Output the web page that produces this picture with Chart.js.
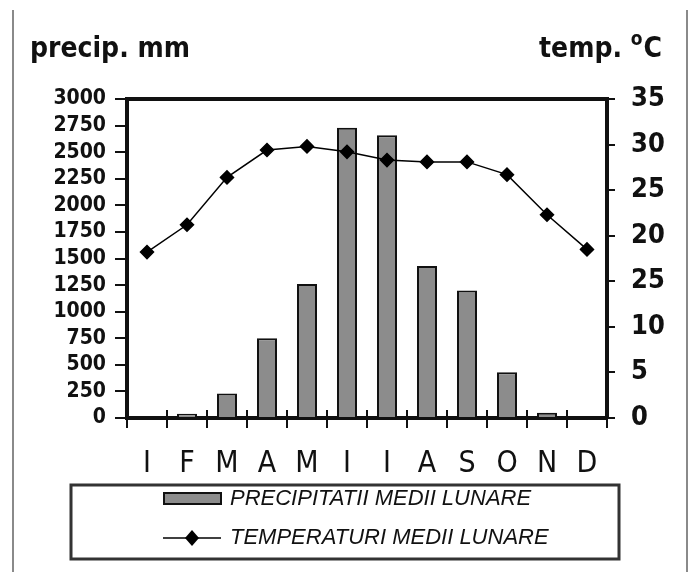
<!DOCTYPE html>
<html>
<head>
<meta charset="utf-8">
<script src="https://cdn.jsdelivr.net/npm/chart.js@4/dist/chart.umd.min.js"></script>
<style>
  html, body { margin: 0; padding: 0; background: #fff; }
  #wrap { position: relative; width: 691px; height: 572px; }
  #c { position: absolute; left: 0; top: 0; }
  .frame { position: absolute; top: 10px; bottom: 0; width: 2px; background: #8a8a8a; }
</style>
</head>
<body>
<div id="wrap">
  <canvas id="c" width="691" height="572"></canvas>
  <div class="frame" style="left:12px"></div>
  <div class="frame" style="left:686px"></div>
</div>
<script>
// ---- data ----
const months = ['I', 'F', 'M', 'A', 'M', 'I', 'I', 'A', 'S', 'O', 'N', 'D'];
const precipitation = [0, 40, 230, 750, 1260, 2730, 2660, 1430, 1200, 430, 50, 0];
const temperature = [18.2, 21.2, 26.4, 29.4, 29.8, 29.2, 28.3, 28.1, 28.1, 26.7, 22.3, 18.5];
const precipTickLabels = ['0', '250', '500', '750', '1000', '1250', '1500', '1750', '2000', '2250', '2500', '2750', '3000'];
const tempTickLabels = ['0', '5', '10', '25', '20', '25', '30', '35'];
const precipLabel = 'PRECIPITATII MEDII LUNARE';
const tempLabel = 'TEMPERATURI MEDII LUNARE';
const leftTitle = 'precip. mm';
const rightTitle = ['temp. ', 'o', 'C'];

const NARROW = "'Liberation Sans Narrow', 'Arial Narrow', 'DejaVu Sans Condensed', sans-serif";
const BAR_FILL = '#8c8c8c';
const INK = '#111';

const decorPlugin = {
  id: 'decor',
  afterDatasetsDraw(chart) {
    const { ctx, chartArea: a, scales } = chart;
    ctx.save();
    ctx.strokeStyle = INK;
    ctx.lineWidth = 4;
    ctx.beginPath();
    ctx.moveTo(a.left - 2, a.top);
    ctx.lineTo(a.right + 2, a.top);
    ctx.stroke();
    const n = scales.x.ticks.length;
    const w = (a.right - a.left) / n;
    ctx.lineWidth = 2;
    ctx.beginPath();
    for (let i = 1; i < n; i++) {
      const px = Math.round(a.left + i * w);
      ctx.moveTo(px, a.bottom);
      ctx.lineTo(px, a.bottom - 8);
    }
    ctx.stroke();
    ctx.restore();
  },
  afterDraw(chart) {
    const { ctx } = chart;
    ctx.save();
    ctx.fillStyle = INK;
    ctx.textBaseline = 'alphabetic';
    ctx.textAlign = 'left';
    const big = 'bold 28px ' + NARROW;
    const sup = 'bold 19px ' + NARROW;
    ctx.font = big;
    ctx.fillText(leftTitle, 30, 57);
    const cW = ctx.measureText(rightTitle[2]).width;
    const tW = ctx.measureText(rightTitle[0]).width;
    ctx.font = sup;
    const oW = ctx.measureText(rightTitle[1]).width;
    const endX = 662;
    const startX = endX - cW - oW - 1 - tW;
    ctx.font = big;
    ctx.fillText(rightTitle[0], startX, 57);
    ctx.fillText(rightTitle[2], endX - cW, 57);
    ctx.font = sup;
    ctx.fillText(rightTitle[1], startX + tW, 45);

    const ds = chart.data.datasets;
    const bar = ds.find(d => d.type === 'bar');
    const line = ds.find(d => d.type === 'line');
    ctx.strokeStyle = '#333';
    ctx.lineWidth = 3;
    ctx.strokeRect(71, 485, 548, 74);
    ctx.fillStyle = bar.backgroundColor;
    ctx.fillRect(164, 493, 57, 11);
    ctx.strokeStyle = INK;
    ctx.lineWidth = 2;
    ctx.strokeRect(164, 493, 57, 11);
    ctx.strokeStyle = line.borderColor;
    ctx.lineWidth = 1.5;
    ctx.beginPath();
    ctx.moveTo(163, 538);
    ctx.lineTo(221, 538);
    ctx.stroke();
    ctx.fillStyle = line.pointBackgroundColor;
    ctx.beginPath();
    ctx.moveTo(192, 530); ctx.lineTo(199, 538); ctx.lineTo(192, 546); ctx.lineTo(185, 538);
    ctx.closePath();
    ctx.fill();
    ctx.fillStyle = INK;
    ctx.font = 'italic 22px "Liberation Sans", Arial, sans-serif';
    ctx.textAlign = 'left';
    ctx.textBaseline = 'middle';
    ctx.fillText(bar.label, 230, 499);
    ctx.fillText(line.label, 230, 538);
    ctx.restore();
  }
};

new Chart(document.getElementById('c'), {
  data: {
    labels: months,
    datasets: [
      {
        type: 'line',
        label: tempLabel,
        data: temperature,
        yAxisID: 'y1',
        borderColor: '#000',
        borderWidth: 1.5,
        pointStyle: 'rectRot',
        pointRadius: 6.5,
        pointBackgroundColor: '#000',
        pointBorderColor: '#000',
        tension: 0,
        order: 0
      },
      {
        type: 'bar',
        label: precipLabel,
        data: precipitation,
        yAxisID: 'y',
        backgroundColor: BAR_FILL,
        borderColor: INK,
        borderWidth: 2,
        barPercentage: 0.5,
        categoryPercentage: 1,
        order: 1
      }
    ]
  },
  options: {
    responsive: false,
    animation: false,
    layout: { padding: { top: 99, left: 0, right: 0, bottom: 0 } },
    plugins: { legend: { display: false }, tooltip: { enabled: false }, title: { display: false } },
    scales: {
      x: {
        offset: true,
        grid: { display: true, drawOnChartArea: false, offset: true, tickLength: 10, color: INK, lineWidth: 2 },
        border: { display: true, color: INK, width: 4 },
        ticks: { color: INK, font: { family: NARROW, size: 30, weight: 'normal' }, padding: 18, maxRotation: 0, autoSkip: false },
        afterFit(s) { s.height = 154; }
      },
      y: {
        position: 'left',
        min: 0, max: 3000,
        ticks: {
          stepSize: 250, color: INK, padding: 9, autoSkip: false,
          font: { family: NARROW, size: 21, weight: 'bold', lineHeight: 1 },
          callback: (v, i) => precipTickLabels[i]
        },
        grid: { display: true, drawOnChartArea: false, tickLength: 12, color: INK, lineWidth: 2 },
        border: { display: true, color: INK, width: 4 },
        afterFit(s) { s.width = 127; }
      },
      y1: {
        position: 'right',
        min: 0, max: 35,
        ticks: {
          stepSize: 5, color: INK, padding: 16, autoSkip: false,
          font: { family: NARROW, size: 27, weight: 'bold' },
          callback: (v, i) => tempTickLabels[i]
        },
        grid: { display: true, drawOnChartArea: false, tickLength: 8, color: INK, lineWidth: 2 },
        border: { display: true, color: INK, width: 4 },
        afterFit(s) { s.width = 84; }
      }
    }
  },
  plugins: [decorPlugin]
});
</script>
</body>
</html>
